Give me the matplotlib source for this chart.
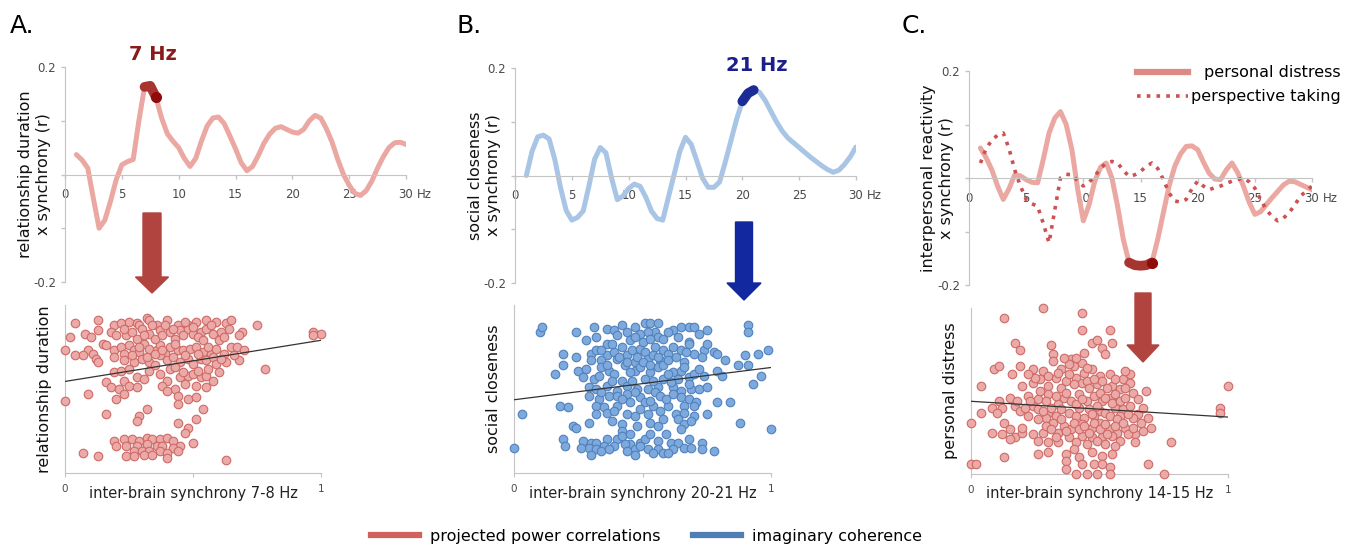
import numpy as np
import matplotlib
matplotlib.use('Agg')
import matplotlib.pyplot as plt
from matplotlib.lines import Line2D
from matplotlib.patches import FancyArrow
import matplotlib.transforms as mtrans

plt.rcParams['font.family'] = ['DejaVu Sans']

# ---------------- data ----------------
hz = [i / 2 for i in range(2, 61)]     # 1.0 ... 30.0 Hz in 0.5 Hz steps
a_r = [0.037, 0.027, 0.012, -0.045, -0.100, -0.085, -0.050, -0.010, 0.018, 0.024,
       0.028, 0.100, 0.163, 0.165, 0.144, 0.105, 0.076, 0.062, 0.050, 0.030,
       0.015, 0.030, 0.062, 0.090, 0.105, 0.107, 0.095, 0.072, 0.048, 0.022,
       0.007, 0.015, 0.035, 0.058, 0.075, 0.086, 0.089, 0.084, 0.079, 0.077,
       0.084, 0.100, 0.110, 0.105, 0.085, 0.060, 0.028, 0.000, -0.020, -0.035,
       -0.039, -0.030, -0.012, 0.012, 0.033, 0.050, 0.059, 0.060, 0.056]
b_r = [0.000, 0.045, 0.072, 0.075, 0.068, 0.030, -0.022, -0.065, -0.083, -0.078,
       -0.066, -0.020, 0.030, 0.052, 0.042, -0.005, -0.045, -0.038, -0.024, -0.016,
       -0.020, -0.040, -0.066, -0.080, -0.083, -0.040, 0.002, 0.045, 0.071, 0.058,
       0.027, -0.005, -0.022, -0.022, -0.012, 0.025, 0.065, 0.105, 0.138, 0.153,
       0.159, 0.155, 0.140, 0.120, 0.100, 0.083, 0.070, 0.061, 0.052, 0.043,
       0.034, 0.026, 0.018, 0.011, 0.006, 0.010, 0.021, 0.035, 0.053]
c_pd = [0.056, 0.038, 0.015, -0.015, -0.040, -0.020, 0.006, 0.004, -0.003, -0.008,
        -0.009, 0.035, 0.084, 0.112, 0.124, 0.100, 0.053, -0.020, -0.080, -0.050,
        -0.006, 0.020, 0.028, 0.000, -0.053, -0.115, -0.158, -0.163, -0.164, -0.163,
        -0.158, -0.115, -0.065, -0.015, 0.022, 0.045, 0.059, 0.060, 0.053, 0.030,
        0.009, -0.002, -0.003, 0.015, 0.028, 0.010, -0.015, -0.045, -0.068, -0.063,
        -0.050, -0.037, -0.025, -0.013, -0.006, -0.007, -0.012, -0.017, -0.022]
c_pt = [0.028, 0.055, 0.071, 0.080, 0.084, 0.055, 0.015, -0.015, -0.040, -0.048,
        -0.053, -0.085, -0.121, -0.060, 0.000, 0.007, 0.006, -0.005, -0.015, -0.008,
        0.003, 0.018, 0.028, 0.031, 0.028, 0.014, 0.003, 0.006, 0.012, 0.022,
        0.028, 0.018, -0.003, -0.028, -0.043, -0.045, -0.040, -0.020, -0.006, -0.015,
        -0.022, -0.018, -0.015, -0.010, -0.006, -0.003, 0.000, -0.007, -0.019, -0.040,
        -0.059, -0.072, -0.080, -0.075, -0.065, -0.050, -0.034, -0.024, -0.015]
x_ticks = [0, 5, 10, 15, 20, 25, 30]
x_ticklabels = ['0', '5', '10', '15', '20', '25', '30']
y_ticks = [-0.2, -0.1, 0, 0.1, 0.2]
y_ticklabels = ['-0.2', '', '', '', '0.2']

a_hi = (7.0, 8.0)     # highlighted band (Hz)
b_hi = (20.0, 21.0)
c_hi = (14.0, 16.0)

a_pts = [(0.04,0.89),(0.13,0.91),(0.19,0.88),(0.22,0.89),(0.25,0.90),(0.28,0.89),(0.29,0.88),
         (0.32,0.92),(0.33,0.91),(0.36,0.88),(0.40,0.91),(0.44,0.88),(0.48,0.88),(0.51,0.90),
         (0.55,0.91),(0.59,0.90),(0.63,0.89),(0.65,0.91),(0.75,0.88),(0.97,0.84),(1.00,0.83),
         (0.97,0.82),
         (0.02,0.81),(0.08,0.83),(0.10,0.81),(0.13,0.85),(0.18,0.84),(0.24,0.82),(0.30,0.86),
         (0.33,0.83),(0.37,0.85),(0.41,0.84),(0.45,0.85),(0.48,0.86),(0.50,0.83),(0.53,0.84),
         (0.55,0.86),(0.58,0.83),(0.61,0.84),(0.64,0.86),(0.69,0.84),(0.68,0.82),
         (0.00,0.73),(0.04,0.70),(0.09,0.73),(0.11,0.71),(0.15,0.77),(0.16,0.76),(0.19,0.73),
         (0.22,0.75),(0.23,0.71),(0.25,0.76),(0.27,0.73),(0.29,0.72),(0.31,0.77),(0.33,0.74),
         (0.36,0.73),(0.37,0.76),(0.39,0.71),(0.41,0.75),(0.44,0.73),(0.46,0.73),(0.49,0.74),
         (0.51,0.75),(0.54,0.72),(0.57,0.71),(0.59,0.74),(0.62,0.71),(0.65,0.75),(0.67,0.75),
         (0.70,0.73),
         (0.07,0.70),(0.12,0.68),(0.13,0.66),(0.19,0.69),(0.23,0.67),(0.27,0.66),(0.30,0.68),
         (0.33,0.66),(0.37,0.70),(0.40,0.67),(0.42,0.69),(0.45,0.66),(0.48,0.68),(0.50,0.65),
         (0.53,0.68),(0.55,0.67),(0.58,0.69),(0.59,0.65),(0.63,0.66),(0.68,0.67),
         (0.19,0.60),(0.22,0.61),(0.25,0.62),(0.28,0.57),(0.31,0.56),(0.33,0.61),(0.37,0.59),
         (0.40,0.55),(0.45,0.57),(0.48,0.58),(0.50,0.59),(0.53,0.57),(0.55,0.58),(0.58,0.55),
         (0.78,0.62),(0.52,0.61),(0.41,0.62),(0.23,0.55),
         (0.16,0.54),(0.18,0.51),(0.21,0.50),(0.25,0.52),(0.28,0.51),(0.38,0.52),(0.43,0.50),
         (0.47,0.53),(0.51,0.52),(0.55,0.51),(0.40,0.49),(0.44,0.46),(0.09,0.47),(0.00,0.43),
         (0.23,0.47),(0.20,0.44),(0.48,0.44),(0.51,0.45),(0.44,0.41),(0.54,0.38),(0.32,0.38),
         (0.29,0.34),(0.28,0.31),(0.16,0.35),
         (0.44,0.30),(0.51,0.32),(0.48,0.27),(0.47,0.24),(0.50,0.18),
         (0.19,0.19),(0.23,0.20),(0.26,0.20),(0.29,0.19),(0.32,0.21),(0.34,0.20),(0.37,0.20),
         (0.40,0.21),(0.42,0.19),(0.45,0.16),(0.20,0.16),(0.24,0.16),(0.28,0.16),(0.32,0.17),
         (0.36,0.16),(0.38,0.16),(0.42,0.15),(0.27,0.13),(0.30,0.13),(0.33,0.13),(0.37,0.13),
         (0.40,0.12),(0.44,0.13),(0.24,0.10),(0.27,0.10),(0.31,0.11),(0.34,0.11),(0.40,0.09),
         (0.07,0.12),(0.13,0.10),(0.63,0.08),
         (0.20,0.82),(0.23,0.86),(0.26,0.84),(0.28,0.80),(0.31,0.82),(0.34,0.88),(0.35,0.80),
         (0.38,0.82),(0.39,0.88),(0.42,0.86),(0.43,0.80),(0.46,0.82),(0.47,0.90),(0.50,0.87),
         (0.52,0.81),(0.54,0.79),(0.57,0.88),(0.60,0.79),(0.62,0.81),(0.26,0.70),(0.29,0.75),
         (0.32,0.69),(0.35,0.71),(0.38,0.73),(0.43,0.77),(0.47,0.70),(0.52,0.71),(0.56,0.75),
         (0.61,0.68),(0.66,0.70),(0.35,0.64),(0.43,0.63),(0.46,0.60),(0.56,0.62),(0.60,0.60)]
a_trend = (0.545, 0.79)

b_pts = [(0.10,0.84),(0.11,0.87),(0.24,0.84),(0.28,0.79),(0.31,0.87),(0.36,0.86),(0.39,0.85),
         (0.42,0.88),(0.44,0.84),(0.47,0.87),(0.49,0.83),(0.51,0.89),(0.53,0.89),(0.56,0.89),
         (0.55,0.84),(0.56,0.81),(0.62,0.85),(0.65,0.87),(0.68,0.87),(0.70,0.87),(0.72,0.83),
         (0.75,0.85),(0.91,0.88),(0.91,0.84),(0.68,0.78),(0.64,0.81),(0.40,0.82),(0.32,0.81),
         (0.19,0.71),(0.19,0.64),(0.24,0.69),(0.30,0.71),(0.32,0.73),(0.36,0.77),(0.36,0.70),
         (0.39,0.72),(0.42,0.75),(0.44,0.70),(0.46,0.73),(0.49,0.74),(0.51,0.72),(0.55,0.75),
         (0.58,0.73),(0.60,0.71),(0.62,0.75),(0.65,0.73),(0.68,0.77),(0.70,0.71),(0.74,0.73),
         (0.75,0.77),(0.78,0.72),(0.79,0.71),(0.82,0.67),(0.90,0.70),(0.95,0.71),(0.99,0.73),
         (0.30,0.67),(0.34,0.67),(0.40,0.68),(0.47,0.66),(0.52,0.68),(0.57,0.67),(0.66,0.66),
         (0.73,0.69),
         (0.16,0.59),(0.25,0.61),(0.28,0.62),(0.27,0.57),(0.31,0.56),(0.34,0.63),(0.37,0.61),
         (0.39,0.59),(0.43,0.64),(0.47,0.61),(0.49,0.63),(0.53,0.60),(0.56,0.63),(0.58,0.64),
         (0.62,0.60),(0.65,0.61),(0.68,0.57),(0.70,0.59),(0.74,0.58),(0.79,0.61),(0.81,0.58),
         (0.87,0.64),(0.91,0.64),(0.96,0.58),(0.93,0.53),(0.33,0.58),(0.42,0.55),(0.51,0.56),
         (0.58,0.56),(0.64,0.56),
         (0.29,0.51),(0.32,0.50),(0.36,0.52),(0.40,0.49),(0.44,0.52),(0.48,0.50),(0.52,0.50),
         (0.56,0.51),(0.62,0.51),(0.65,0.49),(0.69,0.50),(0.72,0.50),(0.75,0.51),(0.29,0.46),
         (0.33,0.44),(0.37,0.46),(0.40,0.46),(0.44,0.47),(0.49,0.45),(0.55,0.48),(0.57,0.46),
         (0.62,0.47),(0.65,0.45),(0.68,0.44),(0.71,0.42),(0.79,0.42),(0.84,0.42),(0.18,0.40),
         (0.21,0.39),(0.32,0.40),(0.35,0.39),(0.40,0.40),(0.45,0.42),(0.51,0.42),(0.54,0.40),
         (0.60,0.40),(0.66,0.40),(0.70,0.40),
         (0.03,0.35),(0.32,0.35),(0.36,0.36),(0.44,0.35),(0.47,0.34),(0.52,0.35),(0.57,0.37),
         (0.63,0.35),(0.66,0.36),(0.64,0.32),(0.70,0.34),(0.75,0.35),(0.29,0.30),(0.23,0.28),
         (0.24,0.27),(0.42,0.29),(0.48,0.28),(0.53,0.30),(0.56,0.28),(0.66,0.29),(0.69,0.31),
         (0.88,0.30),(0.42,0.25),(0.65,0.26),
         (0.19,0.20),(0.20,0.16),(0.27,0.19),(0.30,0.18),(0.32,0.18),(0.36,0.20),(0.40,0.20),
         (0.42,0.22),(0.45,0.17),(0.49,0.18),(0.51,0.20),(0.53,0.23),(0.56,0.19),(0.61,0.18),
         (0.64,0.18),(0.68,0.20),(0.73,0.18),(0.29,0.15),(0.32,0.14),(0.35,0.16),(0.39,0.16),
         (0.43,0.17),(0.47,0.14),(0.49,0.16),(0.52,0.14),(0.56,0.14),(0.58,0.12),(0.62,0.14),
         (0.66,0.15),(0.69,0.15),(0.78,0.13),(0.73,0.14),(0.30,0.11),(0.34,0.13),(0.47,0.11),
         (0.60,0.12),(0.00,0.15),(1.00,0.26),
         (0.45,0.79),(0.47,0.81),(0.50,0.78),(0.52,0.84),(0.53,0.80),(0.58,0.80),(0.60,0.84),
         (0.38,0.77),(0.34,0.73),(0.41,0.69),(0.44,0.66),(0.48,0.69),(0.50,0.66),(0.54,0.70),
         (0.56,0.69),(0.60,0.67),(0.63,0.69),(0.67,0.72),(0.36,0.64),(0.45,0.60),(0.53,0.64),
         (0.60,0.59),(0.66,0.63),(0.72,0.62),(0.38,0.55),(0.46,0.55),(0.54,0.55),(0.61,0.54),
         (0.68,0.53),(0.34,0.48),(0.42,0.44),(0.47,0.48),(0.53,0.43),(0.59,0.44),(0.39,0.37),
         (0.49,0.38),(0.58,0.32),(0.38,0.31),(0.45,0.23),(0.59,0.23),(0.26,0.15),(0.37,0.14),
         (0.44,0.13),(0.54,0.12)]
b_trend = (0.436, 0.628)

c_pts = [(0.28,1.00),(0.13,0.94),(0.43,0.97),(0.43,0.87),(0.54,0.87),(0.17,0.79),(0.19,0.75),
         (0.31,0.78),(0.47,0.79),(0.49,0.81),(0.51,0.76),(0.55,0.79),(0.52,0.72),(0.44,0.73),
         (0.32,0.72),
         (0.09,0.63),(0.11,0.65),(0.16,0.60),(0.19,0.65),(0.24,0.63),(0.28,0.62),(0.32,0.68),
         (0.35,0.63),(0.39,0.69),(0.40,0.65),(0.43,0.67),(0.47,0.63),(0.50,0.59),(0.54,0.60),
         (0.59,0.57),(0.62,0.60),(0.62,0.55),(0.04,0.53),(0.20,0.53),(0.24,0.55),(0.27,0.57),
         (0.30,0.53),(0.33,0.58),(0.37,0.56),(0.41,0.58),(0.43,0.55),(0.45,0.56),(0.49,0.54),
         (0.51,0.56),(0.55,0.53),(0.58,0.51),(0.60,0.52),(0.68,0.50),(1.00,0.53),
         (0.11,0.44),(0.15,0.46),(0.22,0.47),(0.26,0.45),(0.30,0.48),(0.34,0.42),(0.36,0.46),
         (0.39,0.44),(0.42,0.48),(0.45,0.44),(0.48,0.47),(0.51,0.44),(0.54,0.46),(0.57,0.43),
         (0.08,0.40),(0.12,0.40),(0.17,0.41),(0.19,0.38),(0.24,0.41),(0.26,0.39),(0.30,0.37),
         (0.35,0.39),(0.38,0.37),(0.42,0.40),(0.46,0.39),(0.50,0.38),(0.52,0.37),(0.56,0.40),
         (0.59,0.39),(0.65,0.36),(0.69,0.34),(0.97,0.40),(0.97,0.37),(0.04,0.37),(0.10,0.37),
         (0.22,0.35),(0.29,0.34),(0.33,0.35),(0.41,0.35),(0.44,0.34),(0.48,0.35),(0.54,0.35),
         (0.58,0.35),(0.63,0.34),
         (0.00,0.31),(0.13,0.31),(0.15,0.27),(0.08,0.25),(0.12,0.24),(0.17,0.22),(0.20,0.25),
         (0.24,0.24),(0.28,0.25),(0.32,0.31),(0.36,0.29),(0.39,0.27),(0.43,0.30),(0.47,0.28),
         (0.50,0.31),(0.54,0.27),(0.57,0.25),(0.60,0.28),(0.64,0.24),(0.67,0.26),(0.70,0.28),
         (0.20,0.28),(0.29,0.29),(0.34,0.25),(0.38,0.22),(0.43,0.23),(0.47,0.22),(0.51,0.22),
         (0.55,0.23),(0.58,0.20),(0.30,0.19),(0.26,0.20),(0.15,0.21),(0.34,0.19),(0.41,0.19),
         (0.45,0.18),(0.49,0.20),(0.52,0.18),(0.56,0.17),(0.64,0.19),(0.78,0.19),
         (0.26,0.12),(0.30,0.13),(0.13,0.10),(0.37,0.12),(0.40,0.15),(0.42,0.10),(0.47,0.13),
         (0.51,0.11),(0.55,0.12),(0.37,0.08),(0.00,0.06),(0.02,0.06),(0.69,0.06),(0.43,0.06),
         (0.48,0.06),(0.51,0.06),(0.54,0.04),(0.37,0.03),(0.41,0.00),(0.45,0.00),(0.49,0.00),
         (0.54,0.00),(0.75,0.00),
         (0.25,0.58),(0.27,0.50),(0.29,0.44),(0.31,0.40),(0.33,0.47),(0.35,0.52),(0.37,0.49),
         (0.38,0.60),(0.40,0.54),(0.41,0.42),(0.43,0.45),(0.44,0.61),(0.46,0.52),(0.47,0.36),
         (0.48,0.57),(0.49,0.41),(0.50,0.49),(0.52,0.46),(0.53,0.52),(0.55,0.43),(0.56,0.48),
         (0.57,0.33),(0.58,0.44),(0.60,0.46),(0.61,0.36),(0.62,0.41),(0.63,0.49),(0.65,0.45),
         (0.66,0.31),(0.67,0.40),(0.23,0.44),(0.21,0.40),(0.18,0.44),(0.26,0.33),(0.28,0.38),
         (0.31,0.27),(0.33,0.22),(0.35,0.33),(0.37,0.26),(0.40,0.31),(0.42,0.27),(0.44,0.29),
         (0.46,0.25),(0.48,0.31),(0.50,0.27),(0.52,0.30),(0.53,0.24),(0.56,0.29),(0.59,0.31),
         (0.61,0.24),(0.63,0.28),(0.45,0.64),(0.38,0.66),(0.36,0.70),(0.41,0.70),(0.34,0.61),
         (0.30,0.59),(0.22,0.60),(0.56,0.57),(0.60,0.62)]
c_trend = (0.438, 0.343)

# ---------------- figure ----------------
W, H = 1352, 547
fig = plt.figure(figsize=(W / 100, H / 100), dpi=100)
pxT = mtrans.Affine2D().scale(1 / W, -1 / H).translate(0, 1) + fig.transFigure

GREY = '#c4c4c4'
TXT = '#4a4a4a'
PINK = '#eba7a2'
BLUE_L = '#a9c5e6'


def px_axes(l, t, r, b):
    return fig.add_axes([l / W, 1 - b / H, (r - l) / W, (b - t) / H])


def band(vals, lo, hi):
    i0, i1 = hz.index(lo), hz.index(hi)
    return hz[i0:i1 + 1], vals[i0:i1 + 1]


def curve_axes(ax, ylabel, lab_x):
    ax.set_xlim(0, 30)
    ax.set_ylim(-0.2, 0.2)
    for s in ['top', 'right']:
        ax.spines[s].set_visible(False)
    ax.spines['bottom'].set_position(('data', 0))
    ax.spines['left'].set_color(GREY)
    ax.spines['bottom'].set_color(GREY)
    ax.set_yticks(y_ticks)
    ax.set_yticklabels(y_ticklabels)
    ax.set_xticks(x_ticks)
    ax.set_xticklabels(x_ticklabels)
    ax.tick_params(colors=GREY, labelcolor=TXT, labelsize=8.5, length=3, width=1)
    ax.tick_params(axis='x', pad=7)
    ax.annotate('Hz', xy=(30, 0), xytext=(7.5, -10), textcoords='offset points',
                ha='left', va='top', fontsize=8.5, color=TXT)
    ax.set_ylabel(ylabel, fontsize=11.5, color='#111111', linespacing=1.25)
    ax.yaxis.set_label_coords(lab_x, 0.5)
    ax.patch.set_alpha(0)


def scatter_axes(ax, pts, trend, face, edge, xlabel, ylabel):
    xs = np.array([p[0] for p in pts])
    ys = np.array([p[1] for p in pts])
    ax.scatter(xs, ys, s=38, c=face, edgecolors=edge, linewidths=0.8,
               clip_on=False, zorder=3)
    ax.plot([0, 1], trend, color='#333333', lw=0.9, zorder=4)
    ax.set_xlim(0, 1)
    ax.set_ylim(0, 1)
    for s in ['top', 'right']:
        ax.spines[s].set_visible(False)
    ax.spines['left'].set_color(GREY)
    ax.spines['bottom'].set_color(GREY)
    ax.set_xticks([0, 0.5, 1])
    ax.set_xticklabels(['0', '', '1'])
    ax.set_yticks([])
    ax.tick_params(axis='x', colors=GREY, labelcolor=TXT, labelsize=7.5, length=3, pad=5)
    ax.set_xlabel(xlabel, fontsize=10.5, color='#222222')
    ax.xaxis.set_label_coords(0.5, -0.075)
    ax.set_ylabel(ylabel, fontsize=11.5, color='#111111')
    ax.yaxis.set_label_coords(-0.05, 0.5)
    ax.patch.set_alpha(0)


# ---- Panel A ----
axA = px_axes(65, 67, 406, 282)
axA.plot(hz, a_r, color=PINK, lw=3.6, solid_capstyle='round', solid_joinstyle='round', zorder=2)
bx, by = band(a_r, *a_hi)
axA.plot(bx, by, color='#a8342f', lw=7, solid_capstyle='round', zorder=3)
axA.plot([bx[-1]], [by[-1]], 'o', color='#8e0c0c', ms=7, zorder=4)
axA.text(7.75, 0.223, '7 Hz', ha='center', va='center', fontsize=14, fontweight='bold',
         color='#8b1a1a')
curve_axes(axA, 'relationship duration\nx synchrony (r)', -0.04)

sA = px_axes(65, 305, 321, 473)
scatter_axes(sA, a_pts, a_trend, '#eba9a7', '#cd6a66', 'inter-brain synchrony 7-8 Hz',
             'relationship duration')

# ---- Panel B ----
axB = px_axes(515, 68, 856, 283)
axB.plot(hz, b_r, color=BLUE_L, lw=3.6, solid_capstyle='round', solid_joinstyle='round', zorder=2)
bx, by = band(b_r, *b_hi)
axB.plot(bx, by, color='#1b2c96', lw=7, solid_capstyle='round', zorder=3)
axB.text(21.3, 0.205, '21 Hz', ha='center', va='center', fontsize=14, fontweight='bold',
         color='#1a1f8c')
curve_axes(axB, 'social closeness\nx synchrony (r)', -0.04)

sB = px_axes(514, 305, 771, 473)
scatter_axes(sB, b_pts, b_trend, '#7ea9dd', '#4f81bd', 'inter-brain synchrony 20-21 Hz',
             'social closeness')

# ---- Panel C ----
axC = px_axes(969, 71, 1312, 285)
axC.plot(hz, c_pd, color=PINK, lw=3.6, solid_capstyle='round', solid_joinstyle='round', zorder=2)
axC.plot(hz, c_pt, color='#cf5050', lw=2.6, linestyle=(0, (1, 1.7)), zorder=2)
bx, by = band(c_pd, *c_hi)
axC.plot(bx, by, color='#a8342f', lw=7, solid_capstyle='round', zorder=3)
axC.plot([bx[-1]], [by[-1]], 'o', color='#8e0c0c', ms=7, zorder=4)
curve_axes(axC, 'interpersonal reactivity\nx synchrony (r)', -0.045)

sC = px_axes(971, 308, 1228, 474)
scatter_axes(sC, c_pts, c_trend, '#eba9a7', '#cd6a66', 'inter-brain synchrony 14-15 Hz',
             'personal distress')

# legend of panel C (top right)
fig.add_artist(Line2D([1137, 1188], [72, 72], transform=pxT, color='#dd8a85', lw=4.5))
fig.add_artist(Line2D([1137, 1188], [96, 96], transform=pxT, color='#cf5050', lw=2.6,
                      linestyle=(0, (1, 1.7))))
fig.text(1341 / W, 1 - 72 / H, 'personal distress', ha='right', va='center', fontsize=11.5)
fig.text(1341 / W, 1 - 96 / H, 'perspective taking', ha='right', va='center', fontsize=11.5)

# arrows
fig.add_artist(FancyArrow(152, 213, 0, 80, width=18, head_width=33, head_length=16,
                          length_includes_head=True, color='#b1443f', transform=pxT))
fig.add_artist(FancyArrow(744, 222, 0, 78, width=17, head_width=34, head_length=17,
                          length_includes_head=True, color='#12289e', transform=pxT))
fig.add_artist(FancyArrow(1143, 293, 0, 69, width=16, head_width=32, head_length=17,
                          length_includes_head=True, color='#b1443f', transform=pxT))

# panel letters
fig.text(10 / W, 1 - 33 / H, 'A.', fontsize=18, va='baseline', ha='left')
fig.text(457 / W, 1 - 33 / H, 'B.', fontsize=18, va='baseline', ha='left')
fig.text(902 / W, 1 - 33 / H, 'C.', fontsize=18, va='baseline', ha='left')

# bottom legend
handles = [Line2D([], [], color='#d0615d', lw=4.5), Line2D([], [], color='#4f7db4', lw=4.5)]
fig.legend(handles, ['projected power correlations', 'imaginary coherence'],
           loc='center', bbox_to_anchor=(646.5 / W, 1 - 536 / H), ncol=2, frameon=False,
           fontsize=11.5, handlelength=3.0, handletextpad=0.7, columnspacing=2.0)

fig.savefig('out.png', dpi=100)
